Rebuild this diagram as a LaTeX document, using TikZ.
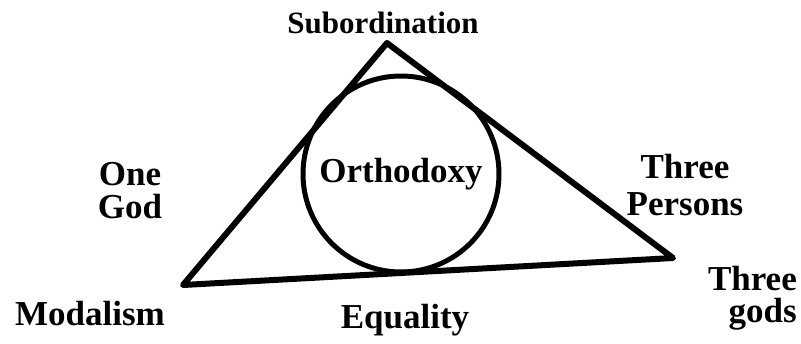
\documentclass[tikz,border=0pt]{standalone}
\usepackage{fontspec}
\setmainfont{Liberation Serif}
\usetikzlibrary{positioning}

\begin{document}
\begin{tikzpicture}[
  x=1pt, y=-1pt,
  every node/.style={font=\bfseries\fontsize{35}{35}\selectfont, inner sep=0pt},
  side/.style={line width=6pt, line join=round, line cap=round},
  ring/.style={circle, draw, line width=5pt, minimum size=196pt},
  term/.style={anchor=base},
]
  \useasboundingbox (0,0) rectangle (801,343);

  % Triangle corners
  \coordinate (modal) at (183,285);
  \coordinate (subord) at (387,43);
  \coordinate (tritheism) at (673,258);

  % Triangle and inscribed circle
  \draw[side] (subord) -- (tritheism) -- (modal) -- cycle;
  \node[ring] (ortho) at (401,174) {Orthodoxy};

  % Corner labels
  \node[term, font=\bfseries\fontsize{31}{32}\selectfont] (sublabel) at (383,33) {Subordination};
  \node[term] (modlabel) at (90,325) {Modalism};
  \node[term, align=right, anchor=base east, font=\bfseries\fontsize{35}{32}\selectfont] (godslabel) at (797,322) {Three\\gods};

  % Side labels
  \node[term] (eqlabel) at (405,328) {Equality};
  \node[term, align=center, font=\bfseries\fontsize{35}{33}\selectfont] (onelabel) at (130,218) {One\\God};
  \node[term, align=center, font=\bfseries\fontsize{35}{37}\selectfont] (perslabel) at (685,215) {Three\\Persons};

\end{tikzpicture}
\end{document}
